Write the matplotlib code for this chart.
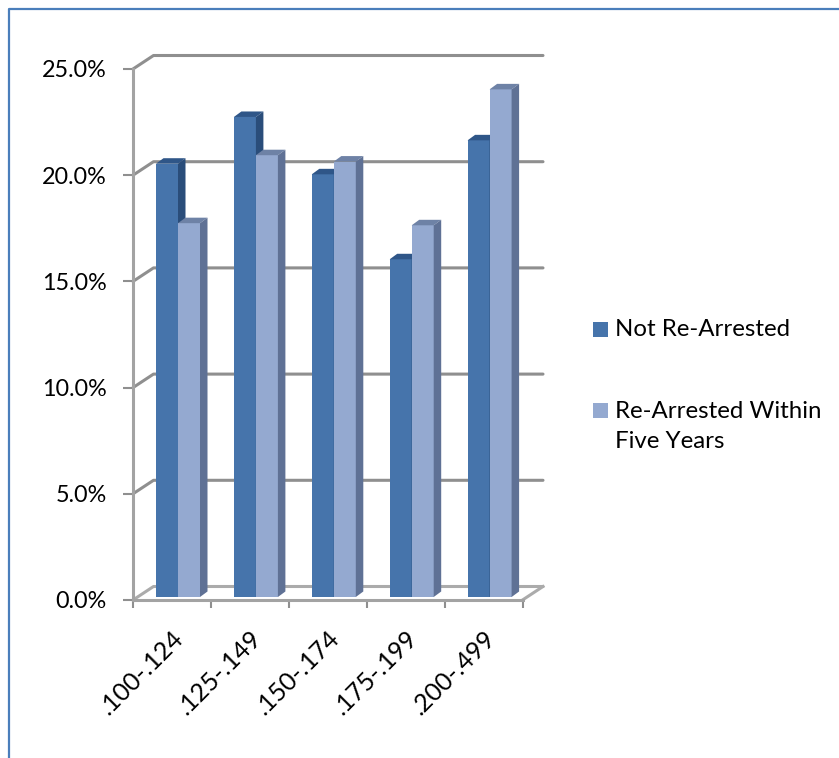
import matplotlib
matplotlib.use('Agg')
import matplotlib.pyplot as plt
from matplotlib.patches import Rectangle
from matplotlib.lines import Line2D

plt.rcParams['font.family'] = ['Lato', 'DejaVu Sans']

# data
categories = ['.100-.124', '.125-.149', '.150-.174', '.175-.199', '.200-.499']
not_rearrested = [20.4, 22.6, 19.9, 15.9, 21.5]
rearrested = [17.6, 20.8, 20.5, 17.5, 23.9]
yticks = [0, 5, 10, 15, 20, 25]
series_names = ['Not Re-Arrested', 'Re-Arrested Within\nFive Years']

W, H = 839, 758
fig = plt.figure(figsize=(W / 100, H / 100), dpi=100)

# front plane of the fake 3d box
left, right, bottom, top = 133, 522.5, 600, 69
ax = fig.add_axes([left / W, 1 - bottom / H, (right - left) / W, (bottom - top) / H])
ax.set_xlim(0, 5)
ax.set_ylim(0, 25)
px_x = 5 / (right - left)
px_y = 25 / (bottom - top)

# back wall offset and bar depth, in data units
back_dx = 20.5 * px_x
back_dy = 13.5 * px_y
bar_dx = 7.5 * px_x
bar_dy = 5.5 * px_y
bar_w = 22 * px_x
base = 3 * px_y

grid_c = '#8f8f8f'
floor_c = '#ababab'

# back wall lines and left wall diagonals
for v in yticks:
    c = floor_c if v == 0 else grid_c
    ax.plot([0, back_dx, 5 + back_dx], [v, v + back_dy, v + back_dy], color=c, lw=2.2,
            clip_on=False, zorder=1, solid_capstyle='round')
# floor right edge
ax.plot([5, 5 + back_dx], [0, back_dy], color=floor_c, lw=2.2, clip_on=False, zorder=1)


def draw_bars(xs, vals, front, topc, side, z):
    ax.bar(xs, vals, width=bar_w, bottom=base, align='edge', color=front, zorder=z,
           clip_on=False, edgecolor='none')
    for x, v in zip(xs, vals):
        yt = base + v
        ax.fill([x, x + bar_dx, x + bar_w + bar_dx, x + bar_w],
                [yt, yt + bar_dy, yt + bar_dy, yt], color=topc, lw=0, zorder=z, clip_on=False)
        ax.fill([x + bar_w, x + bar_w + bar_dx, x + bar_w + bar_dx, x + bar_w],
                [base, base + bar_dy, yt + bar_dy, yt], color=side, lw=0, zorder=z, clip_on=False)


starts = [i + 23 * px_x for i in range(5)]
# light bar sits over the dark side face
draw_bars(starts, not_rearrested, '#4674ab', '#2f5688', '#2a4d7a', 3)
draw_bars([s + bar_w for s in starts], rearrested, '#94a9d0', '#6e82a6', '#5f7195', 4)

# axes
for s in ['top', 'right']:
    ax.spines[s].set_visible(False)
for s in ['left', 'bottom']:
    ax.spines[s].set_color('#a3a3a3')
    ax.spines[s].set_linewidth(2.2)
ax.patch.set_alpha(0)
ax.set_yticks(yticks)
ax.set_yticklabels(['%.1f%%' % v for v in yticks])
ax.set_xticks(range(6))
ax.set_xticklabels([])
ax.set_xticks([i + 0.5 for i in range(5)], minor=True)
ax.set_xticklabels(categories, minor=True, rotation=45, ha='right', rotation_mode='anchor')
ax.tick_params(axis='y', length=7, width=1.5, color='#8f8f8f', labelsize=16.8, pad=12, labelcolor='black')
ax.tick_params(axis='x', which='major', length=6, width=1.5, color='#8f8f8f')
ax.tick_params(axis='x', which='minor', length=0, labelsize=18, pad=19)

# legend, placed by hand like the original
leg_colors = ['#4674ab', '#94a9d0']
text_y = [319, 401]
leg_y = [322, 403]
for c, y, ty, name in zip(leg_colors, leg_y, text_y, series_names):
    fig.add_artist(Rectangle((593 / W, 1 - (y + 15) / H), 15 / W, 15 / H, color=c,
                             transform=fig.transFigure, lw=0))
    fig.text(615 / W, 1 - ty / H, name, fontsize=17.3, va='top', ha='left',
             linespacing=1.5, color='black')

# blue frame of the pasted image
frame_c = '#4a7ebb'
fig.add_artist(Line2D([8.5 / W, 8.5 / W, 1], [0, 1 - 9 / H, 1 - 9 / H], color=frame_c, lw=1.6,
                      transform=fig.transFigure))

fig.savefig('out.png', dpi=100)
